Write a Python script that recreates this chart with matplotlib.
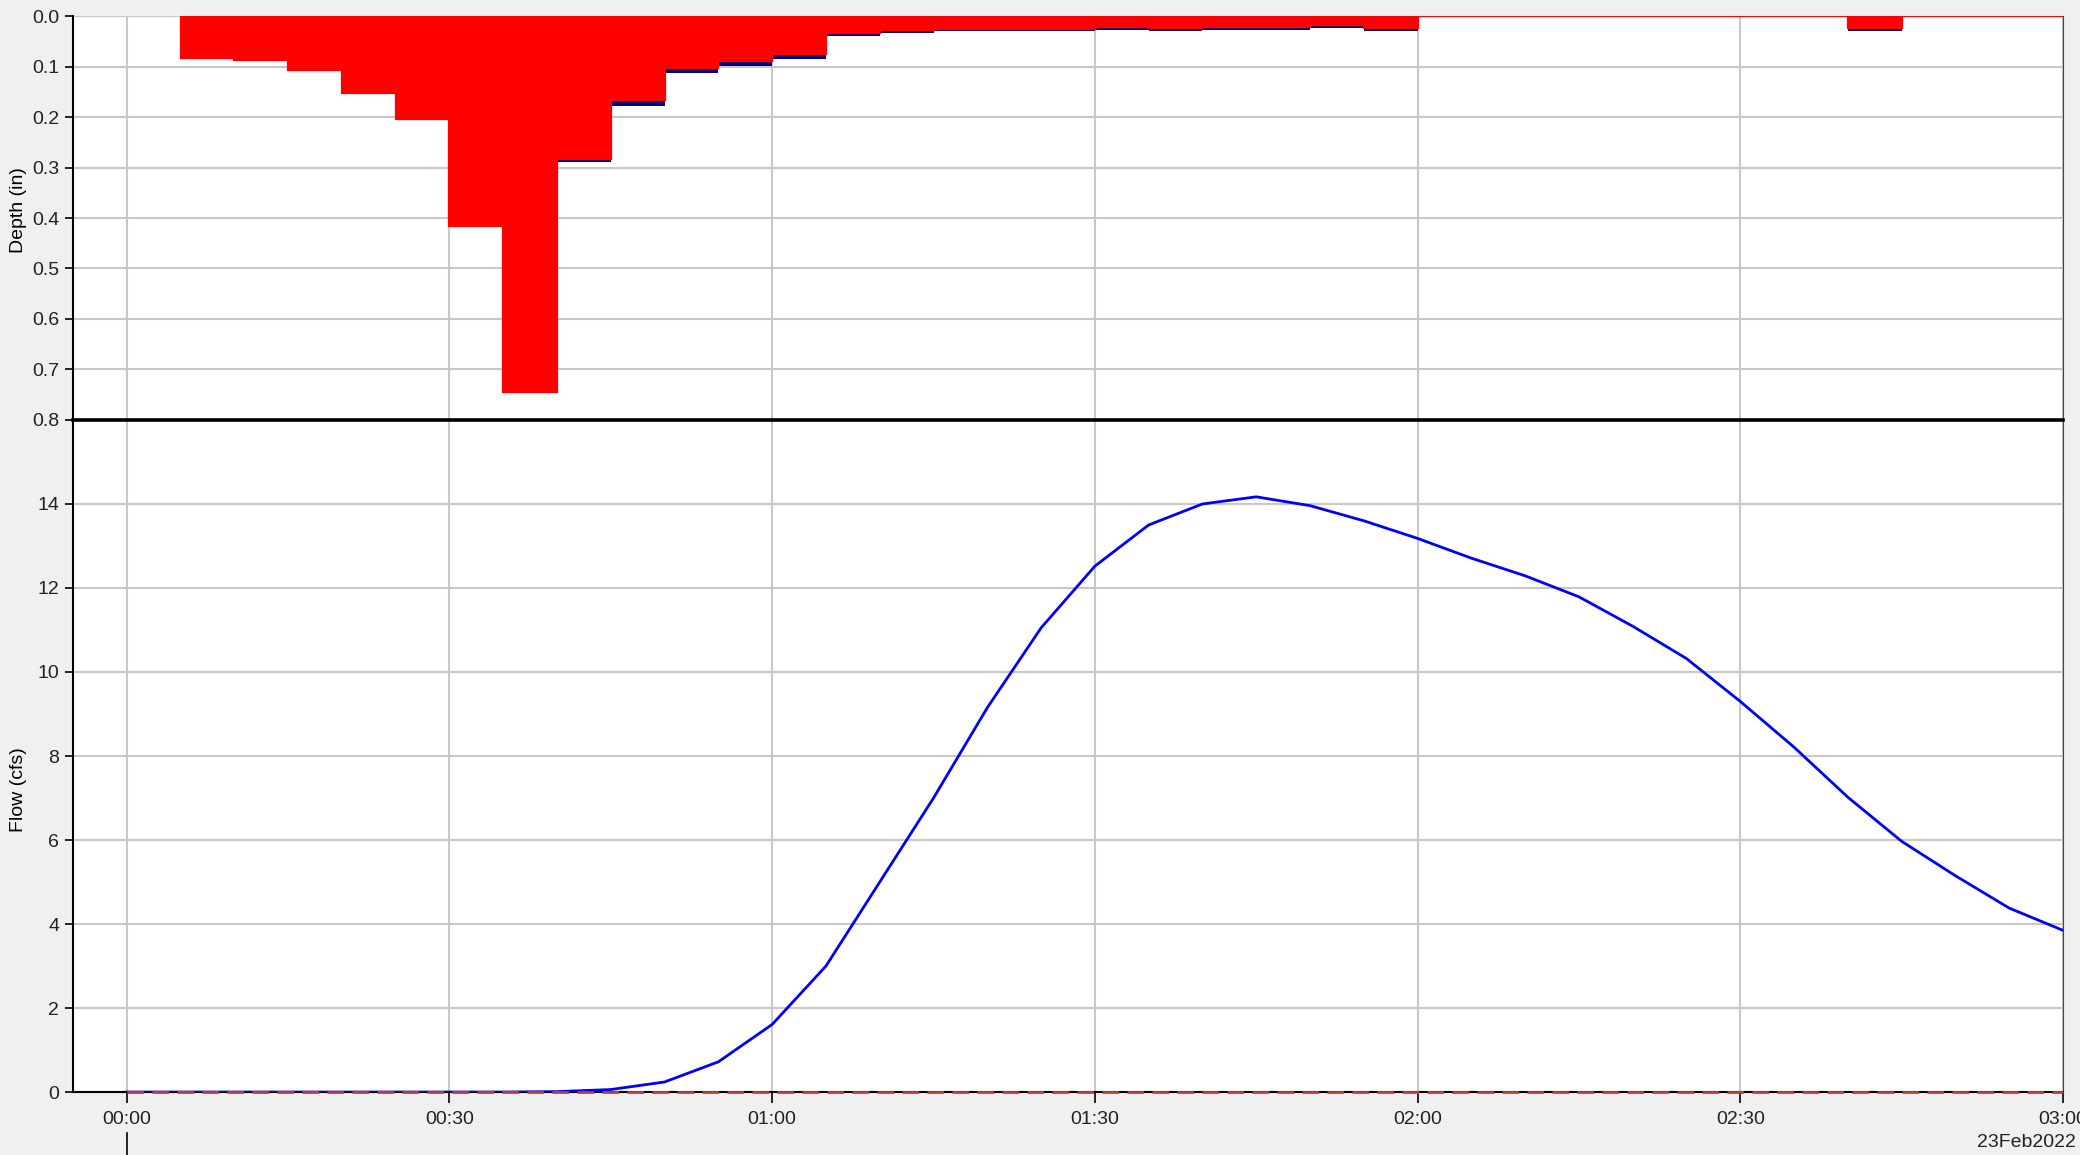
import numpy as np
import matplotlib
matplotlib.use("Agg")
from matplotlib import pyplot as plt
from matplotlib import transforms

plt.rcParams['font.family'] = ['Liberation Sans', 'DejaVu Sans']

# rainfall intervals, start minute of each 5-min block 00:05 .. 02:55
rain_start = list(range(5, 180, 5))
# loss (red) and total precipitation (navy) depths, in
loss = [0.084, 0.087, 0.107, 0.152, 0.204, 0.415, 0.745, 0.283, 0.166, 0.103,
        0.089, 0.075, 0.033, 0.028, 0.025, 0.025, 0.025, 0.022, 0.024, 0.022,
        0.022, 0.018, 0.024, 0.0, 0.0, 0.0, 0.0, 0.0, 0.0, 0.0,
        0.0, 0.024, 0.0, 0.0, 0.0]
precip = [0.084, 0.087, 0.107, 0.152, 0.204, 0.415, 0.745, 0.289, 0.178, 0.113,
          0.098, 0.085, 0.039, 0.034, 0.030, 0.030, 0.030, 0.027, 0.029, 0.027,
          0.027, 0.023, 0.029, 0.0, 0.0, 0.0, 0.0, 0.0, 0.0, 0.0,
          0.0, 0.029, 0.0, 0.0, 0.0]

# outflow hydrograph, every 5 min from 00:00 to 03:00, cfs
flow_min = list(range(0, 181, 5))
flow = [0.0, 0.0, 0.0, 0.0, 0.0, 0.0, 0.0, 0.0, 0.01, 0.06,
        0.24, 0.72, 1.61, 3.0, 5.0, 7.0, 9.15, 11.05, 12.52, 13.5,
        14.0, 14.17, 13.96, 13.6, 13.18, 12.71, 12.29, 11.79, 11.09, 10.32,
        9.30, 8.21, 7.02, 5.97, 5.15, 4.38, 3.85]
baseflow = [0.0] * len(flow_min)

tick_min = [0, 30, 60, 90, 120, 150, 180]
tick_labels = ['00:00', '00:30', '01:00', '01:30', '02:00', '02:30', '03:00']
depth_ticks = [0.0, 0.1, 0.2, 0.3, 0.4, 0.5, 0.6, 0.7, 0.8]
flow_ticks = [0, 2, 4, 6, 8, 10, 12, 14]
date_label = '23Feb2022'

fig = plt.figure(figsize=(20.8, 11.55), dpi=100, facecolor='#f0f0f0')
ax1 = fig.add_axes([0.0351, 0.6364, 0.9567, 0.3497])
ax2 = fig.add_axes([0.0351, 0.0545, 0.9567, 0.5819], sharex=ax1)

grid_kw = dict(color='#c8c8c8', linewidth=1.5)
for ax in (ax1, ax2):
    ax.set_facecolor('white')
    ax.set_axisbelow(True)
    ax.grid(True, **grid_kw)
    ax.tick_params(axis='y', direction='out', length=6, width=1.2,
                   labelsize=14, pad=4, colors='black', labelcolor='#222222')
    ax.spines['right'].set_color('#444444')
    ax.spines['left'].set_linewidth(1.5)

# ---- depth panel
edges = np.array(rain_start + [rain_start[-1] + 5])
ax1.stairs(precip, edges, fill=True, color='#000080', baseline=0)
ax1.stairs(loss, edges, fill=True, color='#ff0000', baseline=0)
ax1.stairs(loss, edges, fill=False, color='#ff0000', linewidth=1.6)
ax1.set_ylim(0.8, 0.0)
ax1.set_yticks(depth_ticks)
ax1.set_yticklabels(['%.1f' % v for v in depth_ticks])
ax1.set_ylabel('Depth (in)', fontsize=14)
ax1.yaxis.set_label_coords(-0.023, 0.52)
ax1.tick_params(axis='x', bottom=False, labelbottom=False)
ax1.spines['top'].set_visible(False)
ax1.spines['bottom'].set_visible(False)

# ---- flow panel
ax2.plot(flow_min, flow, color='#0000ff', linewidth=2.0, zorder=3)
ax2.plot(flow_min, baseflow, color='#b84040', linewidth=2.0,
         dashes=(6, 3), zorder=4, clip_on=False)
ax2.set_ylim(0, 16)
ax2.set_yticks(flow_ticks)
ax2.set_yticklabels([str(v) for v in flow_ticks])
ax2.set_ylabel('Flow (cfs)', fontsize=14)
ax2.yaxis.set_label_coords(-0.023, 0.45)
# thick divider between the two panels
ax2.spines['top'].set_linewidth(2.6)
ax2.spines['top'].set_color('black')
ax2.spines['top'].set_zorder(6)
ax2.spines['bottom'].set_linewidth(1.5)

ax2.set_xlim(-5, 180)
ax2.set_xticks(tick_min)
ax2.set_xticklabels(tick_labels)
ax2.tick_params(axis='x', direction='out', length=8, width=1.2,
                labelsize=14, pad=6, labelcolor='#222222')

# day separator mark under 00:00 and date label
trans = transforms.blended_transform_factory(ax2.transData, ax2.transAxes)
ax2.plot([0, 0], [-0.061, -0.1], color='black', linewidth=1.2,
         transform=trans, clip_on=False)
fig.text(0.998, 0.0104, date_label, ha='right', va='center', fontsize=14,
         color='#222222')

plt.savefig('out.png', dpi=100, facecolor=fig.get_facecolor())
plt.close()
